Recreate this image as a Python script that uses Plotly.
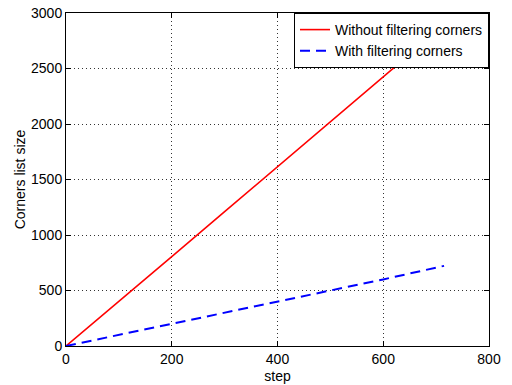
import plotly.graph_objects as go

steps = [0, 100, 200, 300, 400, 500, 600, 715]
without_filtering = [0, 400, 805, 1210, 1615, 2020, 2425, 2890]
with_filtering = [0, 100, 200, 300, 400, 500, 600, 722]

x_ticks = [0, 200, 400, 600, 800]
y_ticks = [0, 500, 1000, 1500, 2000, 2500, 3000]

font = dict(family="Liberation Sans, Arial, sans-serif", size=14, color="black")

fig = go.Figure()
fig.add_trace(go.Scatter(x=steps, y=without_filtering, mode="lines",
                         name="Without filtering corners",
                         line=dict(color="red", width=1.6)))
fig.add_trace(go.Scatter(x=steps, y=with_filtering, mode="lines",
                         name="With filtering corners",
                         line=dict(color="blue", width=2, dash="10px,6px")))

axis_common = dict(showline=True, linecolor="black", linewidth=1, mirror="ticks",
                   ticks="inside", ticklen=5, tickcolor="black",
                   showgrid=True, gridcolor="#333333", griddash="1px,3px", gridwidth=1,
                   zeroline=False, tickfont=font, automargin=False)

fig.update_xaxes(range=[0, 800], tickvals=x_ticks,
                 title=dict(text="step", font=font, standoff=5),
                 **axis_common)
fig.update_yaxes(range=[0, 3000], tickvals=y_ticks,
                 title=dict(text="Corners list size", font=font, standoff=2),
                 **axis_common)

fig.update_layout(width=512, height=385,
                  margin=dict(l=66, r=23, t=13, b=39),
                  paper_bgcolor="white", plot_bgcolor="white",
                  font=font,
                  legend=dict(x=1, y=1, xanchor="right", yanchor="top",
                              bgcolor="white", bordercolor="black", borderwidth=1,
                              font=font, tracegroupgap=0,
                              itemwidth=30))

fig.write_html("out.html",
               config={"displayModeBar": False},
               post_script="document.body.style.margin='0';document.body.style.padding='0';")
